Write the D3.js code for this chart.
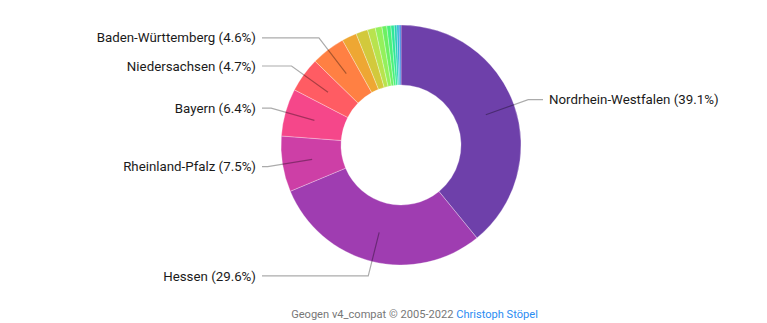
<!DOCTYPE html>
<html>
<head>
<meta charset="utf-8">
<script src="https://cdn.jsdelivr.net/npm/d3@7"></script>
<style>
  html, body { margin: 0; padding: 0; background: #fff; }
  svg { display: block; font-family: Roboto, "Noto Sans", sans-serif; }
</style>
</head>
<body>
<svg id="chart" width="767" height="323"></svg>
<script>
const states = ["Nordrhein-Westfalen", "Hessen", "Rheinland-Pfalz", "Bayern", "Niedersachsen", "Baden-Württemberg",
  "Sachsen", "Berlin", "Schleswig-Holstein", "Hamburg", "Thüringen", "Brandenburg",
  "Sachsen-Anhalt", "Mecklenburg-Vorpommern", "Saarland", "Bremen"];
const shares = [39.1, 29.6, 7.5, 6.4, 4.7, 4.6, 2.0, 1.6, 1.05, 0.9, 0.65, 0.55, 0.45, 0.35, 0.3, 0.25];
const sliceColors = ["#6e40aa", "#9f3db1", "#cd3fa6", "#f5478a", "#ff5c63", "#ff8043",
  "#eea733", "#d2c93c", "#b8e34e", "#94f05c", "#6cf062", "#4af07a", "#30e896", "#26d2b4", "#2bb0d6", "#3d84e0"];
const labelThreshold = 4;

const data = states.map((s, i) => ({ name: s, value: shares[i], color: sliceColors[i] }));
const svg = d3.select("#chart");
const cx = 401, cy = 145;
const outerR = 120, innerR = 60;

const g = svg.append("g").attr("transform", `translate(${cx},${cy})`);
const pie = d3.pie().sort(null).value(d => d.value);
const arcs = pie(data);
const arc = d3.arc().innerRadius(innerR).outerRadius(outerR);
const midArc = d3.arc().innerRadius(90).outerRadius(90);
const elbowArc = d3.arc().innerRadius(135).outerRadius(135);

g.selectAll("path.slice").data(arcs).join("path")
  .attr("class", "slice")
  .attr("d", arc)
  .attr("fill", d => d.data.color)
  .attr("stroke", "#fff")
  .attr("stroke-opacity", 0.5)
  .attr("stroke-width", 0.6);

const labeled = arcs.filter(d => d.data.value >= labelThreshold);
const isRight = d => (d.startAngle + d.endAngle) / 2 < Math.PI;

g.selectAll("polyline").data(labeled).join("polyline")
  .attr("fill", "none")
  .attr("stroke", "#000")
  .attr("stroke-opacity", 0.33)
  .attr("stroke-width", 1.2)
  .attr("points", d => {
    const a = midArc.centroid(d);
    const b = elbowArc.centroid(d);
    const c = [isRight(d) ? 142 : -139, b[1]];
    return [a, b, c].map(p => p.join(",")).join(" ");
  });

g.selectAll("text.lbl").data(labeled).join("text")
  .attr("class", "lbl")
  .attr("x", d => isRight(d) ? 148 : -145)
  .attr("y", d => elbowArc.centroid(d)[1])
  .attr("dy", "0.35em")
  .attr("text-anchor", d => isRight(d) ? "start" : "end")
  .attr("font-size", 13.3)
  .attr("fill", "#1a1a1a")
  .text(d => `${d.data.name} (${d.data.value.toFixed(1)}%)`);

const foot = svg.append("text")
  .attr("x", 414.5).attr("y", 318)
  .attr("text-anchor", "middle")
  .attr("font-size", 11.1);
foot.append("tspan").attr("fill", "#777").text("Geogen v4_compat © 2005-2022 ");
foot.append("tspan").attr("fill", "#2a8cf2").text("Christoph Stöpel");
</script>
</body>
</html>
